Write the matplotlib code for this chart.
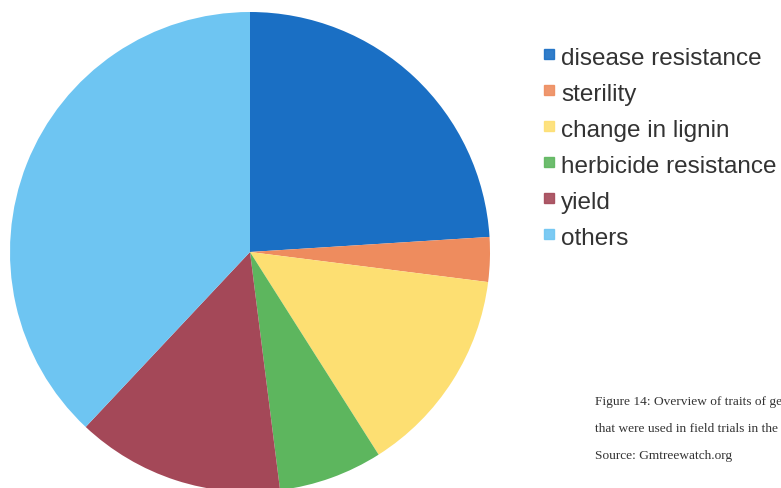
import matplotlib.pyplot as plt
from matplotlib.patches import Rectangle

# trait shares (percent)
traits = ['disease resistance', 'sterility', 'change in lignin',
          'herbicide resistance', 'yield', 'others']
shares = [24, 3, 14, 7, 14, 38]
colors = ['#1a6fc4', '#ee8c5e', '#fddf72', '#5db65e', '#a44858', '#6ec5f2']

# caption as far as it is visible in the picture
caption = ['Figure 14: Overview of traits of ge',
           'that were used in field trials in the',
           'Source: Gmtreewatch.org']

fig = plt.figure(figsize=(7.81, 4.88), dpi=100)
W, H = 781, 488

# pie axes: center ~ (250, 252) px, radius ~ 240 px
ax = fig.add_axes([10 / W, (H - 492) / H, 480 / W, 480 / H])
ax.pie(shares, colors=colors, startangle=90, counterclock=False,
       radius=1, wedgeprops=dict(linewidth=0))
ax.set_xlim(-1, 1)
ax.set_ylim(-1, 1)
ax.set_aspect('equal')
ax.axis('off')

# legend drawn by hand
for i, (lab, c) in enumerate(zip(traits, colors)):
    top = 48 + 36 * i
    fig.patches.append(Rectangle((544 / W, (H - top - 11) / H), 10 / W, 10 / H,
                                 transform=fig.transFigure, color=c, alpha=0.9))
    fig.text(561 / W, (H - (65 + 36 * i)) / H, lab, fontsize=17.5,
             family='Liberation Sans', color='#333333', va='baseline')

# caption
for i, line in enumerate(caption):
    fig.text(595 / W, (H - (405 + 27 * i)) / H, line, fontsize=9.6,
             family='Liberation Serif', color='#333333', va='baseline')

fig.savefig('out.png', dpi=100)
